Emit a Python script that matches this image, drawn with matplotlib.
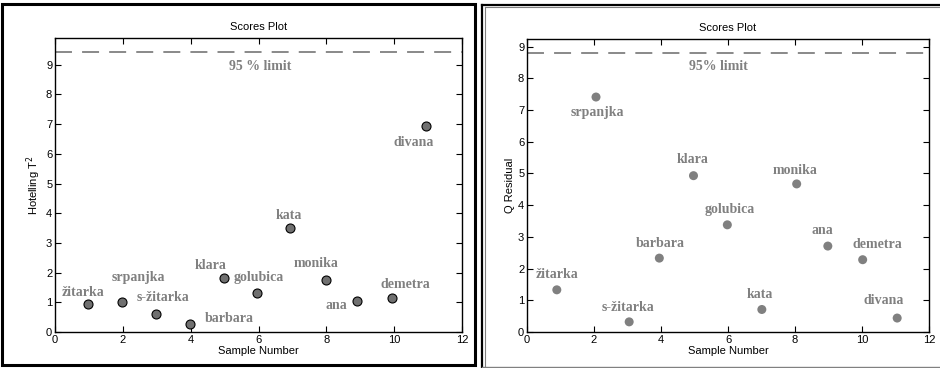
import numpy as np
import matplotlib.pyplot as plt
from matplotlib.patches import Rectangle
from matplotlib.lines import Line2D

# =========================
# Data
# =========================
names_t2 = ['žitarka', 'srpanjka', 's-žitarka', 'barbara', 'klara', 'golubica',
            'kata', 'monika', 'ana', 'demetra', 'divana']
sample_t2 = [0.97, 1.98, 2.99, 3.98, 4.99, 5.96, 6.94, 8.00, 8.90, 9.93, 10.93]
hotelling_t2 = [0.95, 1.00, 0.60, 0.28, 1.81, 1.31, 3.49, 1.74, 1.06, 1.14, 6.95]
limit_t2 = 9.43

names_q = ['žitarka', 'srpanjka', 's-žitarka', 'barbara', 'klara', 'golubica',
           'kata', 'monika', 'ana', 'demetra', 'divana']
sample_q = [0.89, 2.06, 3.05, 3.95, 4.97, 5.98, 7.01, 8.05, 8.98, 10.02, 11.05]
q_residual = [1.33, 7.41, 0.32, 2.33, 4.93, 3.38, 0.71, 4.67, 2.71, 2.28, 0.44]
limit_q = 8.81

# label offsets (dx, dy) from each point, in data units
offs_t2 = [(-0.14, 0.39), (0.47, 0.84), (0.20, 0.55), (1.16, 0.17), (-0.40, 0.42),
           (0.05, 0.51), (-0.04, 0.44), (-0.31, 0.55), (-0.61, -0.17), (0.41, 0.46),
           (-0.34, -0.56)]
offs_q = [(0.02, 0.49), (0.05, -0.48), (-0.05, 0.45), (0.02, 0.45), (-0.03, 0.52),
          (0.07, 0.49), (-0.07, 0.47), (-0.05, 0.43), (-0.17, 0.49), (0.45, 0.48),
          (-0.39, 0.54)]

gray = '#808080'
tick_font = 'Liberation Sans'
lab_font = 'Liberation Serif'

fig = plt.figure(figsize=(9.4, 3.68), dpi=100)
W, H = 940, 368


def px_axes(l, t, r, b):
    return fig.add_axes([l / W, 1 - b / H, (r - l) / W, (b - t) / H])


def style(ax, ylim, ylabel):
    ax.set_xlim(0, 12)
    ax.set_ylim(0, ylim)
    ax.set_xticks(range(0, 13, 2))
    ax.set_yticks(range(0, int(ylim) + 1))
    ax.tick_params(direction='in', top=True, right=True, length=4, width=0.8,
                   labelsize=8, pad=2)
    for lbl in ax.get_xticklabels() + ax.get_yticklabels():
        lbl.set_fontfamily(tick_font)
    for s in ax.spines.values():
        s.set_linewidth(1.0)
    ax.set_title('Scores Plot', fontsize=8, family=tick_font, pad=6)
    ax.set_xlabel('Sample Number', fontsize=8, family=tick_font, labelpad=1)
    ax.set_ylabel(ylabel, fontsize=8, family=tick_font, labelpad=2)


# ---- left panel: Hotelling T^2
ax1 = px_axes(55, 38, 462, 332)
ax1.axhline(limit_t2, color=gray, lw=1.3, dashes=(9.4, 5.6))
ax1.scatter(sample_t2, hotelling_t2, s=42, c='#707070', edgecolors='black',
            linewidths=0.8, zorder=3)
for n, x, y, (dx, dy) in zip(names_t2, sample_t2, hotelling_t2, offs_t2):
    ax1.text(x + dx, y + dy, n, color=gray, fontsize=10, family=lab_font,
             weight='bold', ha='center', va='center')
ax1.text(6.04, 8.95, '95 % limit', color=gray, fontsize=10, family=lab_font,
         weight='bold', ha='center', va='center')
style(ax1, 9.9, 'Hotelling T$^2$')

# ---- right panel: Q residual
ax2 = px_axes(527, 39, 929, 332)
ax2.axhline(limit_q, color=gray, lw=1.3, dashes=(9.4, 5.6))
ax2.scatter(sample_q, q_residual, s=42, c=gray, edgecolors='none', zorder=3)
for n, x, y, (dx, dy) in zip(names_q, sample_q, q_residual, offs_q):
    ax2.text(x + dx, y + dy, n, color=gray, fontsize=10, family=lab_font,
             weight='bold', ha='center', va='center')
ax2.text(5.7, 8.37, '95% limit', color=gray, fontsize=10, family=lab_font,
         weight='bold', ha='center', va='center')
style(ax2, 9.24, 'Q Residual')

# panel frames (pixel coordinates, y from top)
fig.add_artist(Rectangle((1.5 / W, 1 - 365 / H), 473.5 / W, 361 / H,
                         transform=fig.transFigure, fill=False, ec='black', lw=2.2))


def fline(xs, ys, **kw):
    fig.add_artist(Line2D([x / W for x in xs], [1 - y / H for y in ys],
                          transform=fig.transFigure, **kw))


fline([481.5, 481.5], [368, 4.5], color='black', lw=1.6)
fline([481.5, 940], [4.5, 4.5], color='black', lw=1.6)
fline([484.5, 484.5], [367, 7], color=gray, lw=0.8)
fline([484.5, 940], [7, 7], color=gray, lw=0.8)
fline([481.5, 940], [367, 367], color=gray, lw=1.0)

fig.savefig('out.png', dpi=100)
